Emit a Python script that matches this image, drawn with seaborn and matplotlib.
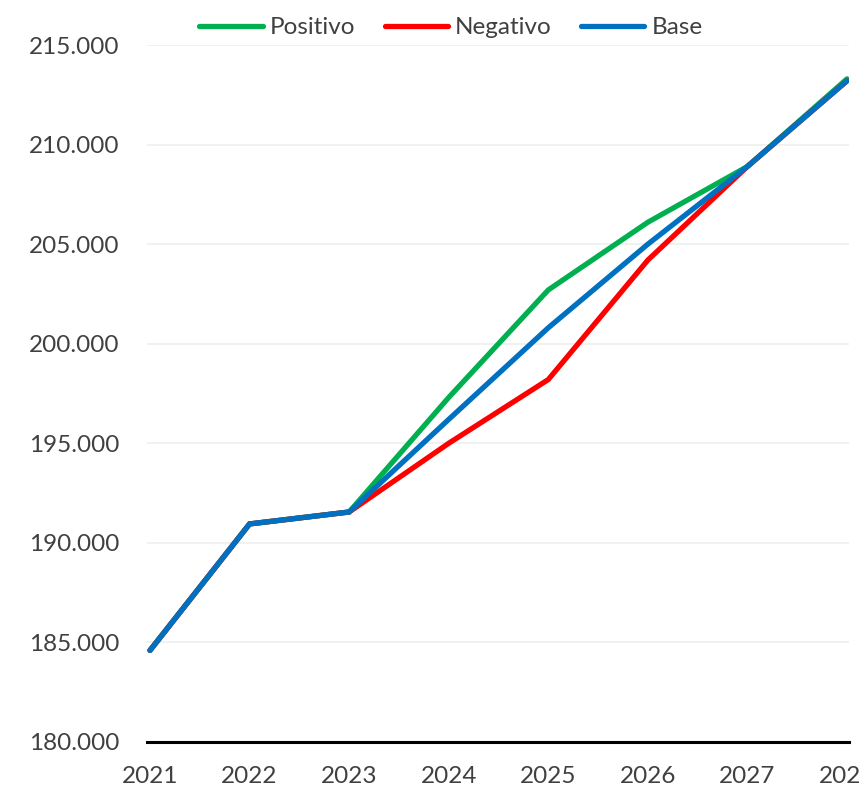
import matplotlib
matplotlib.use("Agg")
import matplotlib.pyplot as plt
import seaborn as sns
import pandas as pd
from matplotlib.ticker import FuncFormatter
from matplotlib.lines import Line2D
from matplotlib import font_manager

years = [2021, 2022, 2023, 2024, 2025, 2026, 2027, 2028]
positivo = [184.6, 190.95, 191.55, 197.3, 202.7, 206.1, 208.9, 213.3]
negativo = [184.6, 190.95, 191.55, 195.0, 198.2, 204.2, 208.9, 213.2]
base = [184.6, 190.95, 191.55, 196.2, 200.8, 205.0, 208.9, 213.2]
series_names = ["Positivo", "Negativo", "Base"]
colors = ["#00B050", "#FF0000", "#0070C0"]
y_ticks = [180, 185, 190, 195, 200, 205, 210, 215]

rows = []
for name, vals in zip(series_names, [positivo, negativo, base]):
    for y, v in zip(years, vals):
        rows.append({"Año": y, "Valor": v, "Escenario": name})
df = pd.DataFrame(rows)

sns.set_style("white")
available = {f.name for f in font_manager.fontManager.ttflist}
fam = [f for f in ["Liberation Sans Narrow", "Lato"] if f in available] + ["DejaVu Sans"]
plt.rcParams["font.family"] = fam
narrow = fam[0] == "Liberation Sans Narrow"
fs = 19 if narrow else 17.5

fig = plt.figure(figsize=(8.59, 7.91), dpi=100)
ax = fig.add_axes([147/859, 1-742/791, (849-147)/859, (742-45)/791])

sns.lineplot(data=df, x="Año", y="Valor", hue="Escenario", hue_order=series_names,
             palette=colors, linewidth=3.8, ax=ax, legend=False,
             solid_capstyle="round", solid_joinstyle="miter")

ax.set_xlim(2020.97, 2028.02)
ax.set_ylim(180, 215)
ax.set_xticks(years)
ax.set_yticks(y_ticks)
ax.yaxis.set_major_formatter(FuncFormatter(lambda v, p: f"{v:.3f}"))
ax.grid(axis="y", color="#F0F0F0", linewidth=1.3)
ax.set_axisbelow(True)
for s in ["left", "right", "top"]:
    ax.spines[s].set_visible(False)
ax.spines["bottom"].set_color("black")
ax.spines["bottom"].set_linewidth(2.2)
ax.tick_params(axis="both", length=0, labelsize=fs, colors="#404040")
ax.tick_params(axis="y", pad=20)
ax.tick_params(axis="x", pad=17)
ax.set_xlabel("")
ax.set_ylabel("")

handles = [Line2D([0], [0], color=c, linewidth=3.8, solid_capstyle="round") for c in colors]
leg = fig.legend(handles, series_names, loc="upper center", bbox_to_anchor=(0.525, 1.006),
                 ncol=3, frameon=False, fontsize=fs, handlelength=2.6, handletextpad=0.3,
                 columnspacing=1.2)
for t in leg.get_texts():
    t.set_color("#404040")

fig.savefig("out.png", dpi=100)
